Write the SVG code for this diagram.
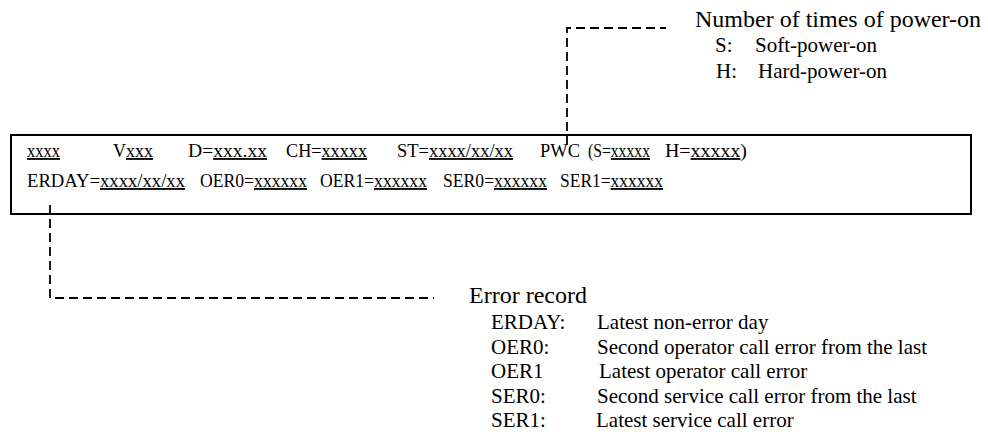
<svg xmlns="http://www.w3.org/2000/svg" width="988" height="432" viewBox="0 0 988 432">
<style>
text{font-family:"Liberation Serif","Times New Roman",serif;fill:#000}
.b{font-size:18.5px}
.t{font-size:24px}
.d{font-size:21px}
.u{text-decoration:underline}
.dash{fill:none;stroke:#000;stroke-width:1.8;stroke-dasharray:9 5}
</style>
<rect width="988" height="432" fill="#fff"/>
<g id="connectors">
<path class="dash" d="M567,145 V28 H666"/>
<path class="dash" d="M50,205 V298 H434"/>
</g>
<g id="status-box">
<rect x="11" y="135" width="960" height="79" fill="none" stroke="#000" stroke-width="2"/>
<text class="b" x="27" y="157" textLength="33" lengthAdjust="spacingAndGlyphs"><tspan class="u">xxxx</tspan></text>
<text class="b" x="113" y="157" textLength="40" lengthAdjust="spacingAndGlyphs">V<tspan class="u">xxx</tspan></text>
<text class="b" x="188" y="157" textLength="79" lengthAdjust="spacingAndGlyphs">D=<tspan class="u">xxx.xx</tspan></text>
<text class="b" x="286" y="157" textLength="81" lengthAdjust="spacingAndGlyphs">CH=<tspan class="u">xxxxx</tspan></text>
<text class="b" x="397" y="157" textLength="116" lengthAdjust="spacingAndGlyphs">ST=<tspan class="u">xxxx/xx/xx</tspan></text>
<text class="b" x="540" y="157" textLength="40" lengthAdjust="spacingAndGlyphs">PWC</text>
<text class="b" x="588" y="157" textLength="62" lengthAdjust="spacingAndGlyphs">(S=<tspan class="u">xxxxx</tspan></text>
<text class="b" x="665" y="157" textLength="82" lengthAdjust="spacingAndGlyphs">H=<tspan class="u">xxxxx</tspan>)</text>
<text class="b" x="27" y="187" textLength="158" lengthAdjust="spacingAndGlyphs">ERDAY=<tspan class="u">xxxx/xx/xx</tspan></text>
<text class="b" x="200" y="187" textLength="107" lengthAdjust="spacingAndGlyphs">OER0=<tspan class="u">xxxxxx</tspan></text>
<text class="b" x="320" y="187" textLength="107" lengthAdjust="spacingAndGlyphs">OER1=<tspan class="u">xxxxxx</tspan></text>
<text class="b" x="443" y="187" textLength="104" lengthAdjust="spacingAndGlyphs">SER0=<tspan class="u">xxxxxx</tspan></text>
<text class="b" x="560" y="187" textLength="103" lengthAdjust="spacingAndGlyphs">SER1=<tspan class="u">xxxxxx</tspan></text>
</g>
<g id="power-on-note">
<text class="t" x="695" y="27">Number of times of power-on</text>
<text class="d" x="715" y="52">S:</text>
<text class="d" x="755" y="52">Soft-power-on</text>
<text class="d" x="716" y="78">H:</text>
<text class="d" x="758" y="78">Hard-power-on</text>
</g>
<g id="error-record-note">
<text class="t" x="469" y="303">Error record</text>
<text class="d" x="491" y="329">ERDAY:</text>
<text class="d" x="597" y="329">Latest non-error day</text>
<text class="d" x="491" y="354">OER0:</text>
<text class="d" x="597" y="354">Second operator call error from the last</text>
<text class="d" x="491" y="378">OER1</text>
<text class="d" x="599" y="378">Latest operator call error</text>
<text class="d" x="491" y="403">SER0:</text>
<text class="d" x="597" y="403">Second service call error from the last</text>
<text class="d" x="491" y="427">SER1:</text>
<text class="d" x="596" y="427">Latest service call error</text>
</g>
</svg>
